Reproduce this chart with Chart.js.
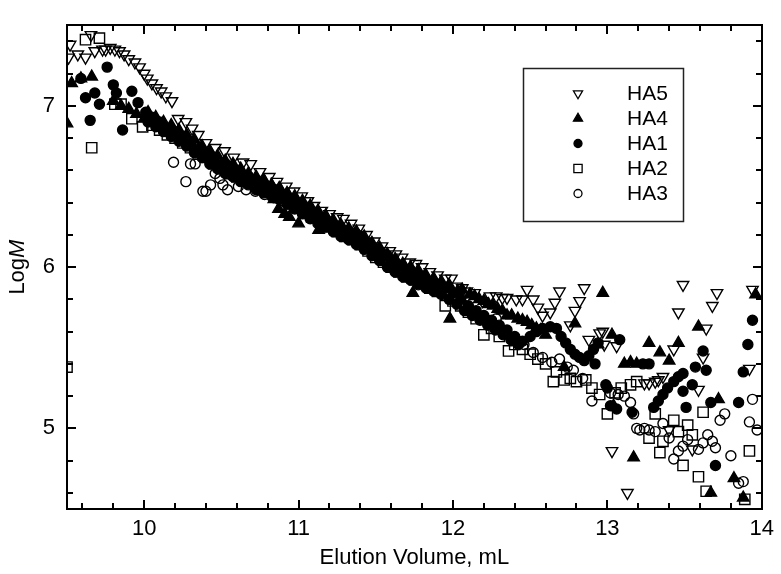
<!DOCTYPE html>
<html><head><meta charset="utf-8">
<script src="https://cdn.jsdelivr.net/npm/chart.js@4/dist/chart.umd.min.js"></script>
<style>html,body{margin:0;padding:0;background:#fff;}#wrap{width:781px;height:574px;}</style>
</head><body><div id="wrap"><canvas id="c" width="781" height="574"></canvas></div>
<script>
// ---- data (x = elution volume mL, y = log M) ----
const seriesLabels = ['HA5', 'HA4', 'HA1', 'HA2', 'HA3'];
const xTickValues = [10, 11, 12, 13, 14];
const yTickValues = [5, 6, 7];

const HA5_points = [
[9.51,7.30],[9.52,7.38],[9.57,7.32],[9.62,7.30],[9.655,7.44],[9.68,7.34],[9.73,7.35],[9.75,7.35],[9.78,7.36],[9.81,7.35],
[9.84,7.34],[9.87,7.32],[9.90,7.29],[9.94,7.27],[9.97,7.24],[10.00,7.20],[10.02,7.17],[10.05,7.14],[10.08,7.11],[10.11,7.09],
[10.14,7.06],[10.18,7.03],[10.22,6.92],[10.27,6.90],[10.31,6.86],[10.35,6.82],[10.40,6.77],[10.46,6.74],[10.52,6.72],[10.58,6.68],
[10.64,6.65],[10.69,6.64],[10.75,6.59],[10.81,6.56],[10.86,6.53],[10.92,6.50],[10.97,6.47],[11.02,6.44],[11.06,6.41],[11.10,6.38],
[11.15,6.35],[11.20,6.33],[11.25,6.31],[11.29,6.30],[11.34,6.27],[11.39,6.24],[11.44,6.20],[11.49,6.16],[11.54,6.13],[11.59,6.10],
[11.63,6.08],[11.67,6.06],[11.72,6.03],[11.76,6.02],[11.80,6.00],[11.85,5.97],[11.90,5.95],[11.95,5.93],[11.99,5.93],[12.02,5.88],
[12.06,5.87],[12.09,5.85],[12.14,5.84],[12.19,5.79],[12.24,5.82],[12.28,5.82],[12.32,5.81],[12.35,5.81],[12.41,5.80],[12.45,5.80],
[12.48,5.86],[12.52,5.80],[12.55,5.75],[12.58,5.70],[12.63,5.72],[12.66,5.78],[12.69,5.85],[12.76,5.64],[12.79,5.73],[12.82,5.79],
[12.85,5.87],[12.88,5.55],[12.95,5.59],[12.97,5.60],[12.98,5.52],[13.03,4.86],[13.06,5.51],[13.13,4.60],[13.24,5.28],[13.27,5.28],
[13.31,5.29],[13.33,5.30],[13.36,5.32],[13.40,4.99],[13.43,5.49],[13.46,5.72],[13.49,5.89],[13.55,4.87],[13.59,5.24],[13.62,5.44],
[13.64,5.62],[13.68,5.76],[13.71,5.84],[13.92,5.37],[13.94,5.86]
];

const HA4_points = [
[9.50,6.89],[9.53,7.14],[9.59,7.17],[9.66,7.18],
[9.80,7.03],[9.85,7.00],[9.90,6.98],[9.95,6.95],[10.00,6.92],[10.05,6.90],[10.10,6.87],[10.15,6.85],[10.20,6.82],[10.25,6.80],
[10.30,6.77],[10.35,6.73],[10.40,6.70],[10.45,6.67],[10.50,6.64],[10.55,6.62],[10.60,6.59],[10.65,6.56],[10.70,6.54],[10.75,6.52],
[10.80,6.49],[10.84,6.42],[10.87,6.36],[10.91,6.33],[10.94,6.31],[11.00,6.27],[11.05,6.33],[11.09,6.30],[11.13,6.23],[11.18,6.27],
[11.24,6.25],[11.30,6.22],[11.36,6.20],[11.42,6.16],[11.48,6.12],[11.54,6.08],[11.60,6.04],[11.66,6.00],[11.70,5.95],[11.74,5.84],
[11.80,5.92],[11.86,5.90],[11.92,5.87],[11.98,5.68],[12.03,5.85],[12.11,5.83],[12.17,5.80],[12.23,5.77],[12.29,5.74],[12.35,5.70],
[12.42,5.68],[12.48,5.66],[12.54,5.62],[12.60,5.58],[12.72,5.38],[12.79,5.65],[12.94,5.52],[12.97,5.84],[13.03,5.58],[13.04,5.14],
[13.11,5.40],[13.15,5.41],[13.19,5.40],[13.17,4.82],[13.27,5.53],[13.34,5.47],[13.40,5.42],[13.46,5.53],[13.59,5.63],[13.67,4.60],
[13.72,5.18],[13.82,4.69],[13.88,4.57],[13.96,5.83],
[10.025,6.96],[10.075,6.93],[10.125,6.90],[10.175,6.88],[10.225,6.85],[10.275,6.82],[10.325,6.79],[10.375,6.75],[10.425,6.72],[10.475,6.69],
[10.525,6.66],[10.575,6.64],[10.625,6.61],[10.675,6.58],[10.725,6.56],[10.775,6.54],[10.825,6.51],[10.875,6.49],[10.925,6.46],[10.975,6.44],
[11.025,6.41],[11.075,6.38],[11.125,6.35],[11.175,6.32],[11.225,6.29],[11.275,6.26],[11.325,6.24],[11.375,6.22],[11.425,6.19],[11.475,6.15],
[11.525,6.12],[11.575,6.08],[11.625,6.05],[11.675,6.02],[11.725,6.00],[11.775,5.98],[11.825,5.95],[11.875,5.93],[11.925,5.91],[11.975,5.89],
[12.06,5.86],[12.14,5.82],[12.20,5.79],[12.26,5.76],[12.32,5.73],[12.38,5.70],[12.45,5.67],[12.51,5.64],[12.57,5.61]
];

const HA1_points = [
[9.59,7.17],[9.62,7.05],[9.65,6.91],[9.68,7.08],[9.71,7.01],[9.76,7.24],[9.80,7.13],[9.82,7.08],[9.86,6.85],[9.92,7.09],
[9.96,7.02],[10.01,6.96],[10.05,6.93],[10.10,6.90],[10.15,6.86],[10.20,6.84],[10.25,6.80],[10.30,6.76],[10.35,6.73],[10.40,6.70],
[10.45,6.66],[10.50,6.63],[10.55,6.60],[10.60,6.58],[10.65,6.56],[10.70,6.53],[10.75,6.51],[10.80,6.50],[10.85,6.48],[10.90,6.45],
[10.95,6.42],[11.00,6.39],[11.05,6.36],[11.10,6.33],[11.15,6.30],[11.20,6.28],[11.25,6.25],[11.30,6.22],[11.35,6.20],[11.40,6.18],
[11.45,6.14],[11.50,6.10],[11.55,6.07],[11.60,6.03],[11.65,6.00],[11.70,5.97],[11.75,5.95],[11.80,5.93],[11.85,5.91],[11.90,5.89],
[11.95,5.87],[12.00,5.84],[12.05,5.80],[12.10,5.76],[12.15,5.73],[12.20,5.70],[12.25,5.67],[12.30,5.64],[12.35,5.61],[12.40,5.57],
[12.45,5.54],[12.50,5.57],[12.54,5.60],[12.58,5.62],[12.63,5.63],[12.67,5.62],[12.70,5.57],[12.73,5.53],[12.76,5.49],[12.79,5.46],
[12.82,5.44],[12.85,5.42],[12.88,5.45],[12.91,5.49],[12.94,5.53],[12.92,5.40],[12.99,5.27],[13.00,5.25],[13.02,5.14],[13.06,5.12],
[13.08,5.55],[13.16,5.10],[13.23,5.40],[13.27,5.40],[13.30,5.13],[13.33,5.17],[13.36,5.21],[13.39,5.25],[13.43,5.29],[13.46,5.32],
[13.49,5.34],[13.49,5.23],[13.51,5.13],[13.55,5.27],[13.57,5.38],[13.62,5.48],[13.64,5.36],[13.67,5.16],[13.70,4.77],[13.85,5.16],
[13.88,5.35],[13.91,5.52],[13.94,5.67],
[10.025,6.90],[10.075,6.87],[10.125,6.84],[10.175,6.81],[10.225,6.78],[10.275,6.75],[10.325,6.71],[10.375,6.68],[10.425,6.64],[10.475,6.61],
[10.525,6.58],[10.575,6.56],[10.625,6.53],[10.675,6.51],[10.725,6.48],[10.775,6.46],[10.825,6.44],[10.875,6.42],[10.925,6.39],[10.975,6.36],
[11.025,6.33],[11.075,6.30],[11.125,6.27],[11.175,6.25],[11.225,6.22],[11.275,6.19],[11.325,6.17],[11.375,6.14],[11.425,6.11],[11.475,6.07],
[11.525,6.04],[11.575,6.00],[11.625,5.97],[11.675,5.94],[11.725,5.92],[11.775,5.89],[11.825,5.87],[11.875,5.85],[11.925,5.83],[11.975,5.80],
[12.025,5.77],[12.075,5.73],[12.125,5.70],[12.175,5.67],[12.225,5.64],[12.275,5.61],[12.325,5.58],[12.375,5.55],[12.425,5.52]
];

const HA2_points = [
[9.50,5.38],[9.62,7.41],[9.71,7.42],[9.66,6.74],[9.81,7.01],[9.85,7.01],[9.92,6.92],[9.99,6.87],
[10.05,6.88],[10.10,6.85],[10.15,6.82],[10.20,6.80],[10.25,6.77],[10.30,6.74],[10.35,6.70],[10.40,6.68],[10.45,6.64],[10.50,6.61],
[10.55,6.58],[10.60,6.56],[10.65,6.54],[10.70,6.52],[10.75,6.49],[10.80,6.47],[10.85,6.45],[10.90,6.43],[10.95,6.40],[11.00,6.37],
[11.05,6.34],[11.10,6.31],[11.15,6.28],[11.20,6.25],[11.25,6.22],[11.30,6.19],[11.35,6.17],[11.40,6.14],[11.45,6.10],[11.50,6.06],
[11.55,6.03],[11.60,6.00],[11.65,5.97],[11.70,5.94],[11.75,5.92],[11.80,5.90],[11.85,5.87],[11.90,5.85],[11.95,5.76],[12.00,5.79],
[12.05,5.76],[12.10,5.72],[12.15,5.68],[12.20,5.58],[12.25,5.62],[12.30,5.57],[12.36,5.48],[12.40,5.52],[12.45,5.49],[12.50,5.46],
[12.55,5.43],[12.60,5.40],[12.65,5.29],[12.67,5.35],[12.72,5.30],[12.76,5.31],[12.80,5.29],[12.86,5.30],[12.90,5.25],[12.95,5.21],
[13.00,5.09],[13.05,5.22],[13.09,5.25],[13.15,5.27],[13.19,5.29],[13.27,4.94],[13.31,5.09],[13.34,4.85],[13.36,4.92],[13.43,5.05],
[13.46,4.98],[13.49,4.77],[13.52,5.02],[13.55,4.96],[13.59,4.70],[13.62,5.10],[13.64,4.61],[13.89,4.56],[13.92,4.86]
];

const HA3_points = [
[10.19,6.65],[10.27,6.53],[10.30,6.64],[10.33,6.64],[10.38,6.47],[10.40,6.47],[10.43,6.51],[10.46,6.58],[10.49,6.55],[10.51,6.51],
[10.54,6.48],[10.61,6.50],[10.66,6.48],[10.72,6.47],[10.78,6.45],[10.84,6.43],[10.90,6.41],[10.96,6.38],[11.02,6.35],[11.08,6.32],
[11.14,6.28],[11.20,6.26],[11.26,6.23],[11.32,6.20],[11.37,6.21],[11.42,6.15],[11.48,6.11],[11.54,6.06],[11.60,6.03],[11.66,5.99],
[11.72,5.96],[11.78,5.93],[11.84,5.90],[11.90,5.87],[11.96,5.84],[12.02,5.80],[12.08,5.76],[12.14,5.72],[12.20,5.69],[12.28,5.68],
[12.34,5.60],[12.40,5.56],[12.46,5.52],[12.52,5.47],[12.58,5.44],[12.64,5.41],[12.69,5.43],[12.74,5.38],[12.78,5.36],[12.84,5.31],
[12.90,5.17],[13.02,5.22],[13.07,5.21],[13.11,5.20],[13.15,5.16],[13.17,5.09],[13.19,5.00],[13.21,4.99],[13.24,5.00],[13.27,4.99],
[13.31,4.98],[13.36,5.03],[13.40,4.94],[13.43,4.81],[13.46,4.86],[13.49,4.89],[13.52,4.93],[13.59,4.87],[13.62,4.91],[13.65,4.96],
[13.68,4.92],[13.70,4.88],[13.73,5.05],[13.76,5.09],[13.80,4.83],[13.85,4.66],[13.88,4.67],[13.92,5.04],[13.94,5.18],[13.97,4.99]
];

// ---- styling ----
const FONT = '"Liberation Sans", Arial, sans-serif';
const toXY = arr => arr.map(p => ({x: p[0], y: p[1]}));
const pointSets = [HA5_points, HA4_points, HA1_points, HA2_points, HA3_points];
const styles = [
  {pointStyle: 'triangle', rotation: 180, radius: 6.6, fill: false},
  {pointStyle: 'triangle', rotation: 0, radius: 6.6, fill: true},
  {pointStyle: 'circle', rotation: 0, radius: 5.0, fill: true},
  {pointStyle: 'rect', rotation: 0, radius: 7.3, fill: false},
  {pointStyle: 'circle', rotation: 0, radius: 5.0, fill: false}
];

const datasets = seriesLabels.map((lab, i) => ({
  label: lab,
  data: toXY(pointSets[i]),
  pointStyle: styles[i].pointStyle,
  pointRotation: styles[i].rotation,
  pointRadius: styles[i].radius,
  pointHoverRadius: styles[i].radius,
  pointBorderWidth: 1.4,
  pointBorderColor: '#000',
  pointBackgroundColor: styles[i].fill ? '#000' : 'rgba(0,0,0,0)',
  borderColor: '#000',
  backgroundColor: styles[i].fill ? '#000' : 'rgba(0,0,0,0)',
  showLine: false
}));

function drawMarker(ctx, st, x, y, r) {
  const opts = {pointStyle: st.pointStyle, rotation: st.rotation, radius: r, borderWidth: 1.3};
  ctx.save();
  ctx.strokeStyle = '#000';
  ctx.fillStyle = st.fill ? '#000' : 'rgba(0,0,0,0)';
  ctx.lineWidth = 1.3;
  if (Chart.helpers && Chart.helpers.drawPoint) {
    Chart.helpers.drawPoint(ctx, opts, x, y);
  } else {
    ctx.beginPath(); ctx.arc(x, y, r, 0, Math.PI * 2);
    if (st.fill) ctx.fill(); ctx.stroke();
  }
  ctx.restore();
}

const framePlugin = {
  id: 'frameTicks',
  afterDraw(chart) {
    const ctx = chart.ctx;
    const a = chart.chartArea;
    const sx = chart.scales.x, sy = chart.scales.y;
    const L = Math.round(a.left), R = Math.round(a.right), T = Math.round(a.top), B = Math.round(a.bottom);

    ctx.save();
    ctx.setTransform(1, 0, 0, 1, 0, 0);
    ctx.globalAlpha = 1;
    ctx.fillStyle = '#000';
    // frame as filled bars
    ctx.fillRect(L - 1, T - 1, R - L + 2, 2);
    ctx.fillRect(L - 1, B - 1, R - L + 2, 2);
    ctx.fillRect(L - 1, T - 1, 2, B - T + 2);
    ctx.fillRect(R - 1, T - 1, 2, B - T + 2);
    // inward ticks: major at labelled values, minor every 0.2
    for (let k = 48; k <= 70; k++) {
      const len = (k % 5 === 0) ? 9 : 6;
      const px = Math.round(sx.getPixelForValue(k / 5));
      ctx.fillRect(px - 1, B - len, 2, len);
      ctx.fillRect(px - 1, T, 2, len);
    }
    for (let k = 23; k <= 37; k++) {
      const len = (k % 5 === 0) ? 9 : 6;
      const py = Math.round(sy.getPixelForValue(k / 5));
      ctx.fillRect(L, py - 1, len, 2);
      ctx.fillRect(R - len, py - 1, len, 2);
    }
    ctx.restore();

    // y-axis title: "Log" + italic "M"
    ctx.save();
    const fs = 22;
    ctx.fillStyle = '#000';
    ctx.textBaseline = 'middle';
    ctx.font = fs + 'px ' + FONT;
    const w1 = ctx.measureText('Log').width;
    ctx.font = 'italic ' + fs + 'px ' + FONT;
    const w2 = ctx.measureText('M').width;
    ctx.translate(18, (a.top + a.bottom) / 2);
    ctx.rotate(-Math.PI / 2);
    const start = -(w1 + w2) / 2;
    ctx.font = fs + 'px ' + FONT;
    ctx.textAlign = 'left';
    ctx.fillText('Log', start, 0);
    ctx.font = 'italic ' + fs + 'px ' + FONT;
    ctx.fillText('M', start + w1, 0);
    ctx.restore();

    // legend box
    ctx.save();
    const bx = 523.5, by = 68.5, bw = 160, bh = 153;
    ctx.fillStyle = '#fff';
    ctx.fillRect(bx, by, bw, bh);
    ctx.strokeStyle = '#222';
    ctx.lineWidth = 1.5;
    ctx.strokeRect(bx, by, bw, bh);
    ctx.font = '21px ' + FONT;
    ctx.textBaseline = 'middle';
    ctx.textAlign = 'left';
    seriesLabels.forEach((lab, i) => {
      const yy = 93.5 + i * 25;
      drawMarker(ctx, styles[i], 578, yy, styles[i].radius * 0.8);
      ctx.fillStyle = '#000';
      ctx.fillText(lab, 627, yy + 1);
    });
    ctx.restore();
  }
};

new Chart(document.getElementById('c'), {
  type: 'scatter',
  data: {datasets},
  options: {
    responsive: false,
    animation: false,
    devicePixelRatio: 1,
    layout: {padding: {left: 0, top: 10, right: 15, bottom: 0}},
    plugins: {legend: {display: false}, tooltip: {enabled: false}},
    scales: {
      x: {
        type: 'linear', position: 'bottom', min: 9.5, max: 14,
        grid: {display: false, drawTicks: false},
        border: {display: false},
        afterBuildTicks: s => { s.ticks = xTickValues.map(v => ({value: v})); },
        afterFit: s => { s.height = 65; },
        ticks: {color: '#000', font: {family: FONT, size: 22}, padding: 7, maxRotation: 0, autoSkip: false},
        title: {display: true, text: 'Elution Volume, mL', color: '#000', font: {family: FONT, size: 22}, padding: {top: 4, bottom: 3}}
      },
      y: {
        type: 'linear', position: 'left', min: 4.5, max: 7.5,
        grid: {display: false, drawTicks: false},
        border: {display: false},
        afterBuildTicks: s => { s.ticks = yTickValues.map(v => ({value: v})); },
        afterFit: s => { s.width = 67; },
        ticks: {color: '#000', font: {family: FONT, size: 22}, padding: 12}
      }
    }
  },
  plugins: [framePlugin]
});
</script></body></html>
